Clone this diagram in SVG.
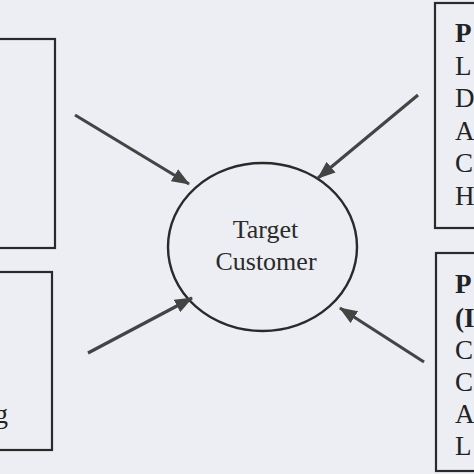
<svg xmlns="http://www.w3.org/2000/svg" width="474" height="474" viewBox="0 0 474 474">
<style>
.box{fill:none;stroke:#2a2a2a;stroke-width:2.2}
.lt{font-family:"Liberation Serif","Times New Roman",serif;font-size:27px;fill:#222}
.b{font-weight:bold}
.ct{font-family:"Liberation Serif","Times New Roman",serif;font-size:26px;fill:#2a2a2a;text-anchor:middle}
.con{stroke:#444;stroke-width:3.2;fill:none;marker-end:url(#ah)}
</style>
<defs>
<marker id="ah" markerUnits="userSpaceOnUse" viewBox="0 0 18 14" refX="17" refY="7" markerWidth="18" markerHeight="14" orient="auto">
<path d="M0,0 L18,7 L0,14 Z" fill="#444"/>
</marker>
</defs>
<rect width="474" height="474" fill="#eceef3"/>
<g id="left-top">
<rect class="box" x="-10" y="39" width="65" height="209"/>
</g>
<g id="left-bottom">
<rect class="box" x="-10" y="272" width="62" height="178"/>
<text class="lt" x="8" y="423" text-anchor="end">g</text>
</g>
<g id="right-top">
<rect class="box" x="435" y="3" width="60" height="225"/>
<text class="lt b" x="455" y="42">P</text>
<text class="lt" x="455" y="75">L</text>
<text class="lt" x="455" y="107">D</text>
<text class="lt" x="455" y="140">A</text>
<text class="lt" x="455" y="172">C</text>
<text class="lt" x="455" y="205">H</text>
</g>
<g id="right-bottom">
<rect class="box" x="436" y="253" width="60" height="218"/>
<text class="lt b" x="455" y="293">P</text>
<text class="lt b" x="455" y="327">(I</text>
<text class="lt" x="455" y="359">C</text>
<text class="lt" x="455" y="391">C</text>
<text class="lt" x="455" y="423">A</text>
<text class="lt" x="455" y="455">L</text>
</g>
<g id="target">
<ellipse cx="262.5" cy="247" rx="94.5" ry="84" fill="none" stroke="#2a2a2a" stroke-width="2.4"/>
<text class="ct" x="265.5" y="238">Target</text>
<text class="ct" x="266" y="270">Customer</text>
</g>
<g id="connectors">
<line class="con" x1="75" y1="115" x2="189" y2="184"/>
<line class="con" x1="418" y1="95" x2="318" y2="178"/>
<line class="con" x1="88" y1="353" x2="192" y2="298"/>
<line class="con" x1="424" y1="362" x2="340" y2="308"/>
</g>
</svg>
